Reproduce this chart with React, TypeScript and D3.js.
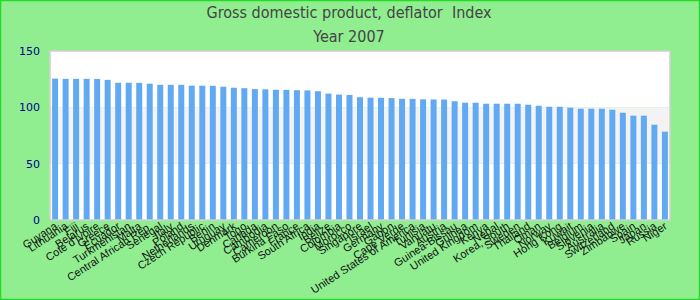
import React from "react";
import * as d3 from "d3";

const categories: string[] = [
  "Guyana", "Lithuania", "Fiji", "Belarus", "Cote d'Ivoire", "Greece", "Ecuador", "Turkmenistan", "Malta", "Central African Rep.",
  "Senegal", "Italy", "Poland", "Netherlands", "Czech Republic", "Benin", "Uruguay", "Denmark", "Togo", "Canada",
  "Cambodia", "Cameroon", "Burkina Faso", "France", "South Africa", "India", "Belize", "Colombia", "Morocco", "Singapore",
  "Israel", "Germany", "Gabon", "Cape Verde", "United States of America", "Tunisia", "Vanuatu", "Austria", "Guinea-Bissau", "Guinea",
  "United Kingdom", "Kenya", "Nepal", "Korea, South", "Sweden", "Thailand", "Oman", "Norway", "Hong Kong", "Kuwait",
  "Belgium", "Slovenia", "Australia", "Switzerland", "Zimbabwe", "Spain", "Japan", "Russia", "Niger"
];

const values: number[] = [
  125.5, 125.3, 125.3, 125.3, 125.2, 124.4, 121.8, 121.8, 121.7, 121.0,
  120.0, 120.0, 120.0, 119.2, 119.2, 119.1, 118.3, 117.4, 117.0, 116.2,
  116.0, 115.6, 115.5, 115.2, 115.0, 114.3, 112.2, 111.3, 111.0, 109.0,
  108.6, 108.5, 108.2, 107.6, 107.5, 107.1, 107.0, 106.9, 105.4, 104.1,
  104.1, 103.2, 103.2, 103.2, 103.2, 102.3, 101.4, 100.5, 100.5, 99.7,
  98.8, 98.8, 98.8, 97.9, 95.2, 92.6, 92.6, 84.6, 78.4
];

const yTicks: number[] = [0, 50, 100, 150];
const titleLine1 = "Gross domestic product, deflator  Index";
const titleLine2 = "Year 2007";

export default function App() {
  const W = 700, H = 300;
  const left = 50, right = 670, top = 51, bottom = 220;
  const x = d3.scaleBand<string>().domain(categories).range([left, right]).paddingInner(0.43).paddingOuter(0.2);
  const y = d3.scaleLinear().domain([0, 150]).range([bottom, top]);
  const bands = [[0, 50, "#ffffff"], [50, 100, "#f3f3f3"], [100, 150, "#ffffff"]] as [number, number, string][];
  const titleFont = "'Liberation Sans Narrow', 'DejaVu Sans Condensed', sans-serif";
  return (
    <div style={{ position: "absolute", left: 0, top: 0 }}>
      <svg width={W} height={H} style={{ display: "block" }}>
        <rect x={0} y={0} width={W} height={H} fill="#90ee90" />
        <rect x={0.5} y={0.5} width={W - 1} height={H - 1} fill="none" stroke="#22dd22" strokeWidth={1.5} />
        <text x={349} y={18} textAnchor="middle" fontSize={16} fill="#444"
          fontFamily={titleFont} style={{ whiteSpace: "pre" }}>{titleLine1}</text>
        <text x={349} y={42} textAnchor="middle" fontSize={16} fill="#444"
          fontFamily={titleFont}>{titleLine2}</text>
        {bands.map(([a, b, c], i) => (
          <rect key={i} x={left} y={y(b)} width={right - left} height={y(a) - y(b)} fill={c} />
        ))}
        {categories.map((c, i) => (
          <rect key={c} x={x(c)} y={y(values[i])} width={x.bandwidth()} height={y(0) - y(values[i])} fill="#62a9f3" />
        ))}
        <rect x={left} y={top} width={right - left} height={bottom - top} fill="none" stroke="#d0d0d0" strokeWidth={1.5} />
        {yTicks.map((t) => (
          <text key={t} x={40} y={y(t) + 4} textAnchor="end" fontSize={11} fill="#000088"
            fontFamily="'DejaVu Sans', sans-serif">{t}</text>
        ))}
        {categories.map((c) => {
          const cx = (x(c) as number) + x.bandwidth() / 2 + 3;
          const cy = 228;
          return (
            <text key={c} x={cx} y={cy} textAnchor="end" fontSize={11} fill="#111"
              fontFamily="'Liberation Sans', Arial, sans-serif" transform={`rotate(-33 ${cx} ${cy})`}>{c}</text>
          );
        })}
      </svg>
    </div>
  );
}
